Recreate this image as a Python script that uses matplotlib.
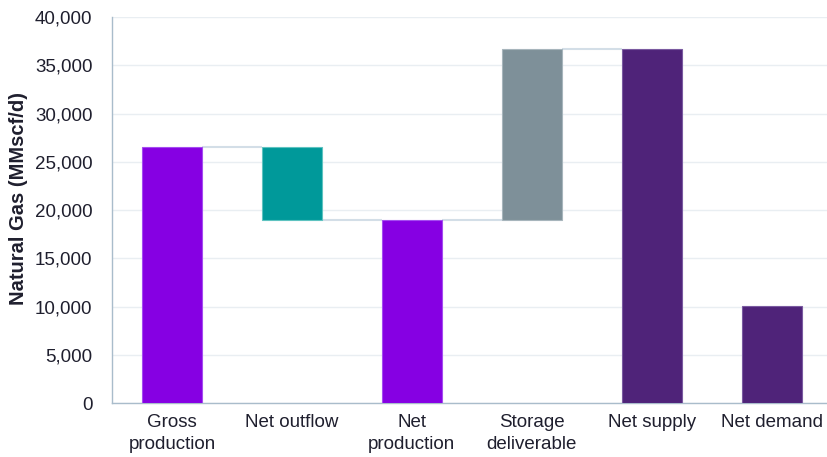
import matplotlib.pyplot as plt
from matplotlib.ticker import FuncFormatter, MultipleLocator

plt.rcParams['font.family'] = ['Liberation Sans', 'DejaVu Sans']

categories = ["Gross\nproduction", "Net outflow", "Net\nproduction",
              "Storage\ndeliverable", "Net supply", "Net demand"]
# level bars are drawn from zero, change bars float from the previous level
values = [26500, -7500, 19000, 17700, 36700, 10100]
kinds = ["total", "delta", "total", "delta", "total", "total"]
colors = ["#8600e3", "#00999a", "#8600e3", "#7e9099", "#4f2379", "#4f2379"]
edges = ["#a44cf0", "#5ec3c0", "#a44cf0", "#a7b5bc", "#7a5aa0", "#7a5aa0"]

fig = plt.figure(figsize=(8.27, 4.57), dpi=100)
ax = fig.add_axes([0.1354, 0.118, 0.8646, 0.8448])

bottoms, tops = [], []
level = 0
for v, k in zip(values, kinds):
    if k == "total":
        b, t = 0, v
        level = v
    else:
        b, t = min(level, level + v), max(level, level + v)
        level = level + v
    bottoms.append(b)
    tops.append(t)

x = list(range(len(categories)))
w = 0.5
ax.bar(x, [t - b for t, b in zip(tops, bottoms)], bottom=bottoms, width=w,
       color=colors, edgecolor=edges, linewidth=0.8, zorder=3)

# connectors between consecutive bars of the running total
running = []
level = 0
for v, k in zip(values, kinds):
    level = v if k == "total" else level + v
    running.append(level)
for i in range(4):
    ax.plot([x[i] + w / 2, x[i + 1] - w / 2], [running[i], running[i]],
            color="#d3dee7", linewidth=1.5, zorder=2, solid_capstyle="butt")

ax.set_xlim(-0.5, 5.46)
ax.set_ylim(0, 40000)
ax.yaxis.set_major_locator(MultipleLocator(5000))
ax.yaxis.set_major_formatter(FuncFormatter(lambda v, p: f"{int(v):,}"))
ax.set_xticks(x)
ax.set_xticklabels(categories, linespacing=1.4)
ax.tick_params(axis="both", length=0, labelsize=13.5, colors="#1f1f2e")
ax.tick_params(axis="y", pad=14)
ax.tick_params(axis="x", pad=8)

ax.grid(axis="y", color="#e9eef2", linewidth=1.0, zorder=0)
ax.set_axisbelow(True)
for s in ["top", "right"]:
    ax.spines[s].set_visible(False)
for s in ["left", "bottom"]:
    ax.spines[s].set_color("#a9bccb")
    ax.spines[s].set_linewidth(1.0)

ax.set_ylabel("Natural Gas (MMscf/d)", fontsize=14.5, fontweight="bold",
              color="#1f1f2e", labelpad=6)
ax.yaxis.set_label_coords(-0.117, 0.53)

fig.savefig("out.png", dpi=100)
